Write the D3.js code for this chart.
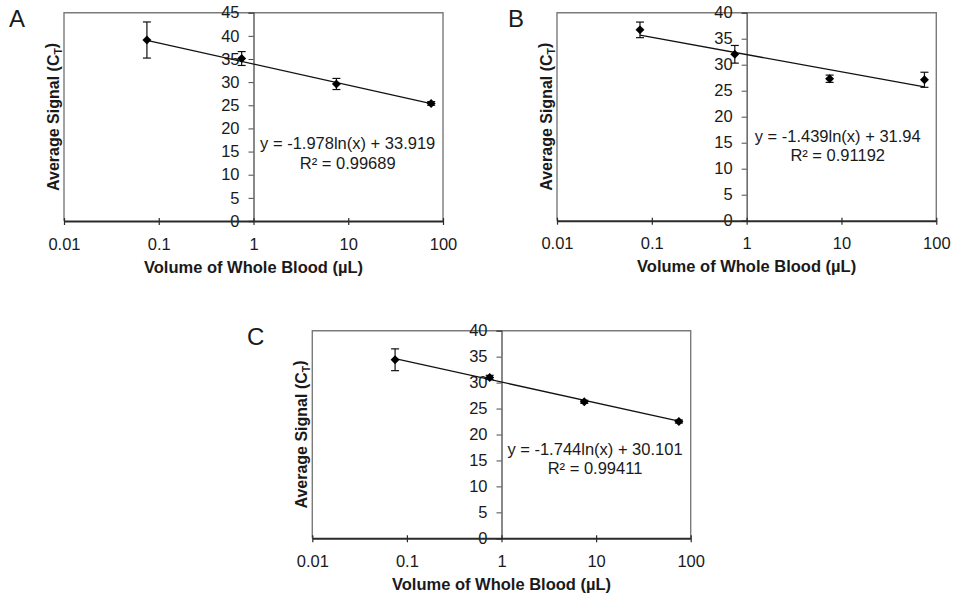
<!DOCTYPE html>
<html>
<head>
<meta charset="utf-8">
<script src="https://cdn.jsdelivr.net/npm/d3@7"></script>
<style>
  html, body { margin: 0; padding: 0; background: #fff; }
  svg { display: block; font-family: "Liberation Sans", Arial, sans-serif; }
</style>
</head>
<body>
<svg id="chart" width="954" height="600"></svg>
<script>
// ---------------- data ----------------
const volumes = [0.075, 0.75, 7.5, 75];           // µL of whole blood
const meanA = [39.1, 35.1, 29.6, 25.4];
const errA  = [3.9, 1.5, 1.2, 0.4];
const meanB = [36.7, 32.0, 27.3, 27.1];
const errB  = [1.5, 1.7, 0.7, 1.45];
const meanC = [34.4, 31.0, 26.3, 22.5];
const errC  = [2.1, 0.4, 0.3, 0.3];
const fitSlope     = [-1.978, -1.439, -1.744];
const fitIntercept = [33.919, 31.94, 30.101];
const fitLabels = ["y = -1.978ln(x) + 33.919", "y = -1.439ln(x) + 31.94", "y = -1.744ln(x) + 30.101"];
const r2Labels  = ["R² = 0.99689", "R² = 0.91192", "R² = 0.99411"];
const panelNames = ["A", "B", "C"];
const yMaxes = [45, 40, 40];
const xTicks = [0.01, 0.1, 1, 10, 100];
const xTickLabels = ["0.01", "0.1", "1", "10", "100"];
const xTitle = "Volume of Whole Blood (µL)";

// ---------------- layout ----------------
const panels = [
  { left: 64,    right: 443,   top: 12.7,  bottom: 221,   eqX: 347.7, eqY: 143.3, r2Y: 163.3, lblX: 9,   lblY: 27 },
  { left: 557,   right: 936.3, top: 12.7,  bottom: 220.7, eqX: 837.7, eqY: 136,   r2Y: 155,   lblX: 508, lblY: 26.7 },
  { left: 312.3, right: 690.7, top: 330.7, bottom: 538.3, eqX: 595,   eqY: 449.3, r2Y: 468.3, lblX: 247, lblY: 345 }
];
const means = [meanA, meanB, meanC];
const errs = [errA, errB, errC];

const svg = d3.select("#chart");
const textColor = "#1a1a1a";

panels.forEach((p, i) => {
  const g = svg.append("g");
  const x = d3.scaleLog().domain([0.01, 100]).range([p.left, p.right]);
  const y = d3.scaleLinear().domain([0, yMaxes[i]]).range([p.bottom, p.top]);

  // plot box (left, top, right)
  g.append("path")
    .attr("d", `M${p.left},${p.bottom}V${p.top}H${p.right}V${p.bottom}`)
    .attr("fill", "none").attr("stroke", "#7a7a7a").attr("stroke-width", 1.4);

  // y axis at x = 1
  const yAxis = d3.axisLeft(y).tickValues(d3.range(0, yMaxes[i] + 0.001, 5))
    .tickSize(5).tickPadding(9).tickFormat(d3.format("d"));
  const ya = g.append("g").attr("transform", `translate(${x(1)},0)`).call(yAxis);
  ya.select(".domain").attr("stroke", "#4a4a4a").attr("stroke-width", 1.3);
  ya.selectAll(".tick line").attr("stroke", "#4a4a4a");
  ya.selectAll(".tick text").attr("font-size", 16.5).attr("fill", textColor)
    .attr("font-family", "Liberation Sans, Arial, sans-serif");

  // x axis
  const xAxis = d3.axisBottom(x).tickValues(xTicks)
    .tickFormat((d, k) => xTickLabels[k]).tickSize(0).tickPadding(17);
  const xa = g.append("g").attr("transform", `translate(0,${p.bottom})`).call(xAxis);
  xa.select(".domain").attr("stroke", "#2a2a2a").attr("stroke-width", 2);
  xa.selectAll(".tick line").attr("stroke", "#2a2a2a").attr("y1", -3).attr("y2", 4).attr("stroke-width", 1.2);
  xa.selectAll(".tick text").attr("font-size", 16.5).attr("fill", textColor)
    .attr("font-family", "Liberation Sans, Arial, sans-serif");

  // x title
  g.append("text")
    .attr("x", (p.left + p.right) / 2).attr("y", p.bottom + 46)
    .attr("dy", "0.35em").attr("text-anchor", "middle")
    .attr("font-size", 16.5).attr("font-weight", "bold").attr("fill", textColor)
    .text(xTitle);

  // y title
  const yt = g.append("text")
    .attr("transform", `translate(${p.left - 11},${(p.top + p.bottom) / 2}) rotate(-90)`)
    .attr("dy", "0.35em").attr("text-anchor", "middle")
    .attr("font-size", 16).attr("font-weight", "bold").attr("fill", textColor);
  yt.append("tspan").text("Average Signal (C");
  yt.append("tspan").attr("font-size", 10.5).attr("dy", "0.3em").text("T");
  yt.append("tspan").attr("dy", "-0.3em").text(")");

  // panel letter
  g.append("text").attr("x", p.lblX).attr("y", p.lblY)
    .attr("font-size", 24).attr("fill", textColor).text(panelNames[i]);

  // trendline
  const xs = [volumes[0], volumes[volumes.length - 1]];
  const line = d3.line().x(d => x(d)).y(d => y(fitSlope[i] * Math.log(d) + fitIntercept[i]));
  g.append("path").attr("d", line(xs)).attr("fill", "none")
    .attr("stroke", "#111").attr("stroke-width", 1.3);

  // error bars
  const data = volumes.map((v, k) => ({ v, m: means[i][k], e: errs[i][k] }));
  const eb = g.append("g").attr("stroke", "#111").attr("stroke-width", 1.2);
  data.forEach(d => {
    const cx = x(d.v), y1 = y(d.m + d.e), y2 = y(d.m - d.e);
    eb.append("line").attr("x1", cx).attr("x2", cx).attr("y1", y1).attr("y2", y2);
    eb.append("line").attr("x1", cx - 4).attr("x2", cx + 4).attr("y1", y1).attr("y2", y1);
    eb.append("line").attr("x1", cx - 4).attr("x2", cx + 4).attr("y1", y2).attr("y2", y2);
  });

  // markers (diamonds)
  g.selectAll("path.pt").data(data).enter().append("path")
    .attr("class", "pt")
    .attr("d", d3.symbol().type(d3.symbolSquare).size(40))
    .attr("transform", d => `translate(${x(d.v)},${y(d.m)}) rotate(45)`)
    .attr("fill", "#000");

  // equation labels
  g.append("text").attr("x", p.eqX).attr("y", p.eqY).attr("dy", "0.35em")
    .attr("text-anchor", "middle").attr("font-size", 16.5).attr("fill", textColor)
    .text(fitLabels[i]);
  g.append("text").attr("x", p.eqX).attr("y", p.r2Y).attr("dy", "0.35em")
    .attr("text-anchor", "middle").attr("font-size", 16.5).attr("fill", textColor)
    .text(r2Labels[i]);
});
</script>
</body>
</html>
